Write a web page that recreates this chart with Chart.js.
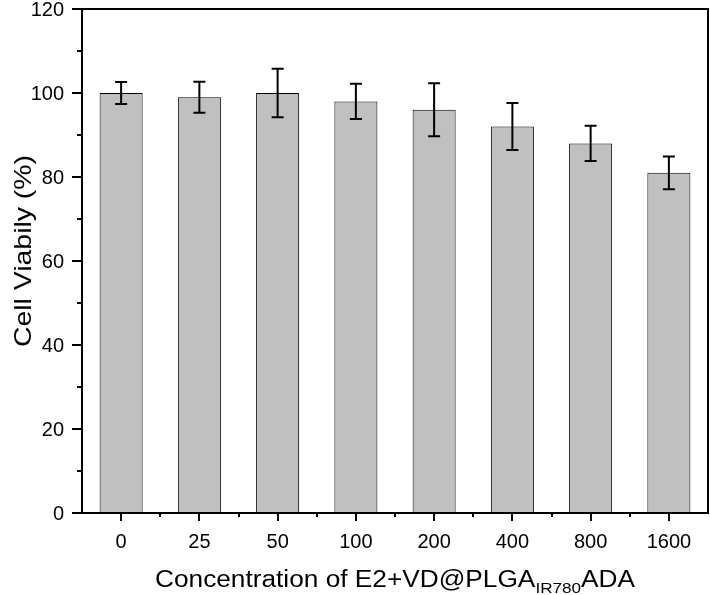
<!DOCTYPE html>
<html>
<head>
<meta charset="utf-8">
<script src="https://cdn.jsdelivr.net/npm/chart.js@4/dist/chart.umd.min.js"></script>
<style>
  html, body { margin: 0; padding: 0; background: #fff; }
</style>
</head>
<body>
<canvas id="viabilityChart" width="710" height="595"></canvas>
<script>
// values
const concentrations = ['0', '25', '50', '100', '200', '400', '800', '1600'];
const viability = [100, 99, 100, 98, 96, 92, 88, 81];
const viabilityErr = [2.6, 3.7, 5.8, 4.2, 6.3, 5.6, 4.2, 3.9];
const yMajorTicks = [0, 20, 40, 60, 80, 100, 120];
const yMinorTicks = [10, 30, 50, 70, 90, 110];

const FONT = "'Liberation Sans', Arial, sans-serif";

// draw text pieces (with optional subscript) stretched a little, like the original export
function drawPieces(ctx, parts, cx, base, targetWidth) {
    let total = 0;
    parts.forEach(p => {
        ctx.font = p.size + 'px ' + FONT;
        p.w = ctx.measureText(p.text).width;
        total += p.w;
    });
    const sx = targetWidth / total;
    ctx.save();
    ctx.translate(cx, base);
    ctx.scale(sx, 1);
    let x = -total / 2;
    ctx.fillStyle = '#000';
    ctx.textAlign = 'left';
    ctx.textBaseline = 'alphabetic';
    parts.forEach(p => {
        ctx.font = p.size + 'px ' + FONT;
        ctx.fillText(p.text, x, p.dy || 0);
        x += p.w;
    });
    ctx.restore();
}

// error bars, frame, tick marks, tick labels and axis titles
const originLook = {
    id: 'originLook',
    afterDatasetsDraw(chart) {
        const ctx = chart.ctx;
        const y = chart.scales.y;
        const meta = chart.getDatasetMeta(0);
        ctx.save();
        ctx.strokeStyle = '#000';
        ctx.lineWidth = 2;
        meta.data.forEach((bar, i) => {
            const top = y.getPixelForValue(viability[i] + viabilityErr[i]);
            const bot = y.getPixelForValue(viability[i] - viabilityErr[i]);
            ctx.beginPath();
            ctx.moveTo(bar.x, top);
            ctx.lineTo(bar.x, bot);
            ctx.moveTo(bar.x - 6, top);
            ctx.lineTo(bar.x + 6, top);
            ctx.moveTo(bar.x - 6, bot);
            ctx.lineTo(bar.x + 6, bot);
            ctx.stroke();
        });
        ctx.restore();
    },
    afterDraw(chart) {
        const ctx = chart.ctx;
        const area = chart.chartArea;
        const x = chart.scales.x;
        const y = chart.scales.y;
        ctx.save();
        ctx.strokeStyle = '#000';
        ctx.lineWidth = 2;
        ctx.strokeRect(area.left, area.top, area.right - area.left, area.bottom - area.top);

        ctx.beginPath();
        yMajorTicks.forEach(v => {
            const py = Math.round(y.getPixelForValue(v));
            ctx.moveTo(area.left - 10, py);
            ctx.lineTo(area.left, py);
        });
        yMinorTicks.forEach(v => {
            const py = Math.round(y.getPixelForValue(v));
            ctx.moveTo(area.left - 5, py);
            ctx.lineTo(area.left, py);
        });
        concentrations.forEach((c, i) => {
            const px = Math.round(x.getPixelForValue(i));
            ctx.moveTo(px, area.bottom);
            ctx.lineTo(px, area.bottom + 8);
        });
        for (let i = 0; i < concentrations.length - 1; i++) {
            const px = Math.round((x.getPixelForValue(i) + x.getPixelForValue(i + 1)) / 2);
            ctx.moveTo(px, area.bottom);
            ctx.lineTo(px, area.bottom + 4);
        }
        ctx.stroke();

        // tick labels
        ctx.fillStyle = '#000';
        ctx.font = '20px ' + FONT;
        ctx.textAlign = 'right';
        ctx.textBaseline = 'middle';
        yMajorTicks.forEach(v => {
            ctx.fillText(String(v), area.left - 18, y.getPixelForValue(v) + 1);
        });
        ctx.textAlign = 'center';
        concentrations.forEach((c, i) => {
            ctx.fillText(c, x.getPixelForValue(i), area.bottom + 29);
        });

        // x axis title with subscript
        drawPieces(ctx, [
            { text: 'Concentration of E2+VD@PLGA', size: 23 },
            { text: 'IR780', size: 15, dy: 6 },
            { text: 'ADA', size: 23 }
        ], (area.left + area.right) / 2, 587, 480);

        // y axis title
        ctx.save();
        ctx.translate(31, 251);
        ctx.rotate(-Math.PI / 2);
        drawPieces(ctx, [{ text: 'Cell Viabily (%)', size: 24 }], 0, 0, 192);
        ctx.restore();

        ctx.restore();
    }
};

const ctx = document.getElementById('viabilityChart').getContext('2d');

const viabilityChart = new Chart(ctx, {
    type: 'bar',
    data: {
        labels: concentrations,
        datasets: [{
            data: viability,
            backgroundColor: '#c0c0c0',
            borderColor: '#000',
            borderWidth: 1,
            barPercentage: 0.55,
            categoryPercentage: 1
        }]
    },
    options: {
        responsive: false,
        animation: false,
        layout: { padding: { left: 0, right: 2, top: 9, bottom: 0 } },
        plugins: {
            legend: { display: false },
            tooltip: { enabled: false }
        },
        scales: {
            x: {
                grid: { display: false, drawTicks: false },
                border: { display: false },
                ticks: { display: false },
                afterFit(scale) { scale.height = 82; }
            },
            y: {
                min: 0,
                max: 120,
                grid: { display: false, drawTicks: false },
                border: { display: false },
                ticks: { display: false, stepSize: 20 },
                afterFit(scale) { scale.width = 82; }
            }
        }
    },
    plugins: [originLook]
});
</script>
</body>
</html>
